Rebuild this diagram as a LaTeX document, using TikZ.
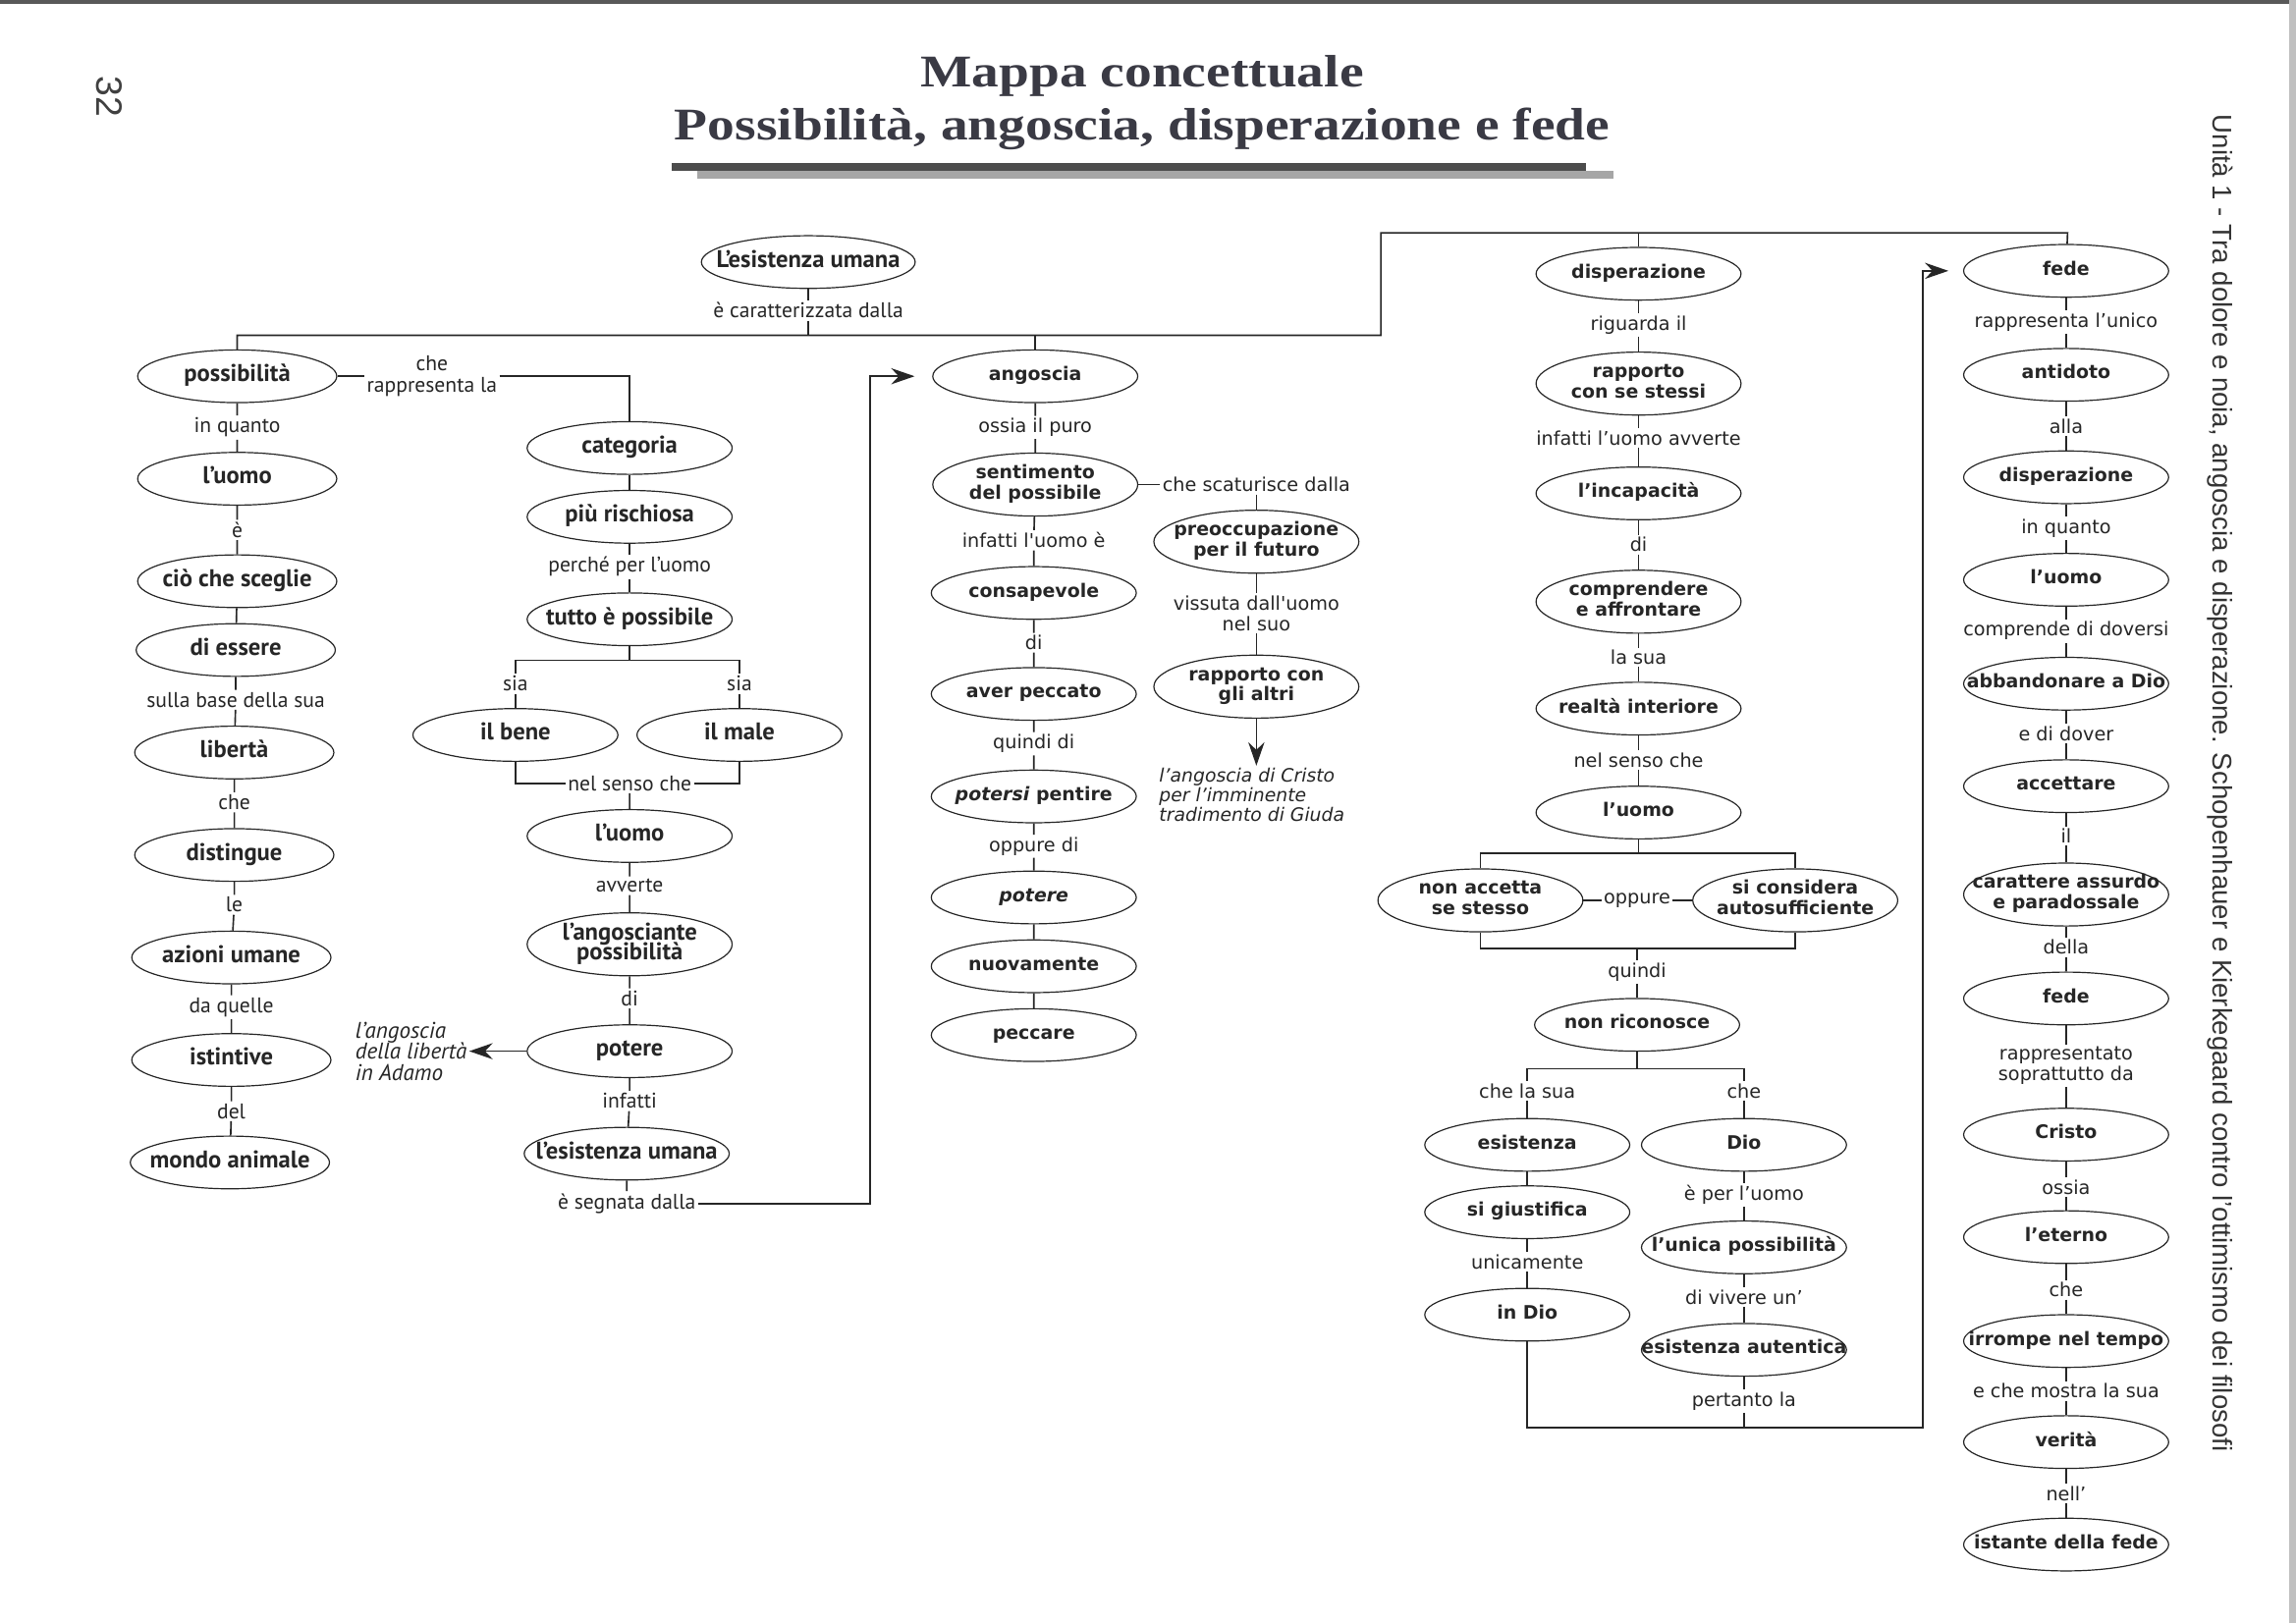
\documentclass[tikz,border=0pt]{standalone}
\usepackage{fontspec}
\usetikzlibrary{shapes.geometric,arrows.meta}
\newfontfamily\fA{PT Sans}
\newfontfamily\fB{DejaVu Sans}
\newfontfamily\fT[FakeStretch=1.2]{Liberation Serif}
\newfontfamily\fS{Liberation Sans}
\definecolor{ink}{HTML}{262626}
\definecolor{tink}{HTML}{3A3A44}
\newcommand{\zt}[1]{\makebox[0pt]{\begin{tabular}{@{}c@{}}#1\end{tabular}}}
\tikzset{
 conn/.style={draw=ink, line width=1.1pt},
 arr/.style={conn, -{Stealth[length=16pt,width=11pt]}},
 ovbase/.style={ellipse, draw=ink, line width=0.8pt, inner sep=0pt, minimum height=36, text=ink},
 ovA/.style={ovbase, minimum width=136, font=\fA\bfseries\fontsize{16.5}{15}\selectfont},
 ovB/.style={ovbase, minimum width=140, font=\fB\bfseries\fontsize{12.7}{14}\selectfont},
 two/.style={minimum height=43},
 labA/.style={inner sep=1.5pt, text=ink, align=center, font=\fA\fontsize{14.5}{15}\selectfont},
 labB/.style={inner sep=1.5pt, text=ink, align=center, font=\fB\fontsize{12.9}{14}\selectfont},
}
\begin{document}
\begin{tikzpicture}[x=1pt,y=-1pt]
\useasboundingbox (0,0) rectangle (1568,1108.6);
\fill[white] (0,0) rectangle (1568,1108.6);
\fill[black!65] (0,0) rectangle (1568,2.5);
\fill[black!25] (1563,0) rectangle (1568,1108.6);

% title
\node[font=\fT\bfseries\fontsize{31}{31}\selectfont, text=tink] (t1) at (780,52) {Mappa concettuale};
\node[font=\fT\bfseries\fontsize{31}{31}\selectfont, text=tink] (t2) at (780,88) {Possibilità, angoscia, disperazione e fede};
\fill[black!70] (459,111) rectangle (1083,117);
\fill[black!35] (476,117) rectangle (1102,122);
\node[font=\fS\fontsize{25}{25}\selectfont, text=black!75, rotate=-90] (pg) at (75,66) {32};
\node[font=\fS\fontsize{18.5}{20}\selectfont, text=black!80, rotate=-90] (side) at (1516,535) {Unità 1 - Tra dolore e noia, angoscia e disperazione. Schopenhauer e Kierkegaard contro l’ottimismo dei filosofi};

% top
\node[ovA, minimum width=146] (ex0) at (552,179) {\zt{L’esistenza umana}};
\node[labA] (lcar) at (552,212) {è caratterizzata dalla};
\coordinate (k0) at (552,229);
\coordinate (k1) at (943,229);
\coordinate (k3) at (1412,159);

% column 1
\node[ovA] (poss) at (162,257) {\zt{possibilità}};
\node[labA] (l1) at (162,292) {in quanto};
\node[ovA] (uomo1) at (162,327) {\zt{l’uomo}};
\node[labA] (l2) at (162,362) {è};
\node[ovA] (cio) at (162,397) {\zt{ciò che sceglie}};
\node[ovA] (diess) at (161,444) {\zt{di essere}};
\node[labA] (l3) at (161,478) {sulla base della sua};
\node[ovA] (lib) at (160,514) {\zt{libertà}};
\node[labA] (l4) at (160,548) {che};
\node[ovA] (dist) at (160,584) {\zt{distingue}};
\node[labA] (l5) at (160,618) {le};
\node[ovA] (az) at (158,654) {\zt{azioni umane}};
\node[labA] (l6) at (158,688) {da quelle};
\node[ovA] (ist) at (158,724) {\zt{istintive}};
\node[labA] (l7) at (158,759) {del};
\node[ovA] (mondo) at (157,794) {\zt{mondo animale}};
\draw[conn] (poss) -- (l1) -- (uomo1) -- (l2) -- (cio) -- (diess) -- (l3) -- (lib) -- (l4) -- (dist) -- (l5) -- (az) -- (l6) -- (ist) -- (l7) -- (mondo);

% column 2
\node[labA] (l8) at (295,257) {che\\rappresenta la};
\node[ovA, minimum width=140] (cat) at (430,306) {\zt{categoria}};
\node[ovA, minimum width=140] (piu) at (430,353) {\zt{più rischiosa}};
\node[labA] (l9) at (430,387) {perché per l’uomo};
\node[ovA, minimum width=140] (tutto) at (430,423) {\zt{tutto è possibile}};
\coordinate (j1) at (430,451);
\coordinate (b1) at (352,451);
\coordinate (b2) at (505,451);
\node[labA] (sia1) at (352,467) {sia};
\node[labA] (sia2) at (505,467) {sia};
\node[ovA, minimum width=140] (bene) at (352,502) {\zt{il bene}};
\node[ovA, minimum width=140] (male) at (505,502) {\zt{il male}};
\node[labA] (l10) at (430,535) {nel senso che};
\node[ovA, minimum width=140] (uomo2) at (430,571) {\zt{l’uomo}};
\node[labA] (l11) at (430,605) {avverte};
\node[ovA, minimum width=140, two] (angp) at (430,645) {\zt{l’angosciante\\[-3pt]possibilità}};
\node[labA] (l12) at (430,682) {di};
\node[ovA, minimum width=140] (pot1) at (430,718) {\zt{potere}};
\node[labA, font=\fA\itshape\fontsize{15.5}{14.5}\selectfont, align=left, anchor=west] (adamo) at (241,718) {l’angoscia\\della libertà\\in Adamo};
\node[labA] (l13) at (430,752) {infatti};
\node[ovA, minimum width=140] (ex2) at (428,788) {\zt{l’esistenza umana}};
\node[labA] (l14) at (428,822) {è segnata dalla};
\coordinate (k4) at (594,257);

\draw[conn] (poss) -- (l8);
\draw[conn] (l8.east) -| (cat);
\draw[conn] (cat) -- (piu) -- (l9) -- (tutto) -- (j1);
\draw[conn] (sia1) -- (b1) -- (b2) -- (sia2);
\draw[conn] (sia1) -- (bene);
\draw[conn] (sia2) -- (male);
\draw[conn] (bene) |- (l10);
\draw[conn] (male) |- (l10);
\draw[conn] (l10) -- (uomo2) -- (l11) -- (angp) -- (l12) -- (pot1) -- (l13) -- (ex2) -- (l14);
\draw[arr] (pot1) -- (adamo);

% column 3
\node[ovB] (ang) at (707,257) {\zt{angoscia}};
\node[labB] (m1) at (707,292) {ossia il puro};
\node[ovB, two] (sent) at (707,331) {\zt{sentimento\\del possibile}};
\node[labB] (m2) at (706,369) {infatti l'uomo è};
\node[ovB] (cons) at (706,405) {\zt{consapevole}};
\node[labB] (m3) at (706,439) {di};
\node[ovB] (aver) at (706,474) {\zt{aver peccato}};
\node[labB] (m4) at (706,508) {quindi di};
\node[ovB] (pent) at (706,544) {\zt{\textit{potersi} pentire}};
\node[labB] (m5) at (706,578) {oppure di};
\node[ovB] (pot2) at (706,613) {\zt{\itshape potere}};
\node[ovB] (nuov) at (706,660) {\zt{nuovamente}};
\node[ovB] (pecc) at (706,707) {\zt{peccare}};
\node[labB] (m6) at (858,331) {che scaturisce dalla};
\node[ovB, two] (preo) at (858,370) {\zt{preoccupazione\\per il futuro}};
\node[labB] (m7) at (858,419) {vissuta dall'uomo\\nel suo};
\node[ovB, two] (rapa) at (858,469) {\zt{rapporto con\\gli altri}};
\node[labB, font=\fB\itshape\fontsize{12.6}{13.5}\selectfont, align=left, anchor=north west] (giuda) at (790,523) {l’angoscia di Cristo\\per l’imminente\\tradimento di Giuda};

\draw[conn] (ang) -- (m1) -- (sent) -- (m2) -- (cons) -- (m3) -- (aver) -- (m4) -- (pent) -- (m5) -- (pot2) -- (nuov) -- (pecc);
\draw[conn] (sent) -- (m6);
\draw[conn] (m6) -- (preo) -- (m7) -- (rapa);
\draw[arr] (rapa) -- (rapa |- giuda.north);
\draw[arr] (l14) -| (k4) -- ([xshift=-12pt]ang.west);

% column 4
\node[ovB] (disp) at (1119,187) {\zt{disperazione}};
\node[labB] (n1) at (1119,222) {riguarda il};
\node[ovB, two] (rss) at (1119,262) {\zt{rapporto\\con se stessi}};
\node[labB] (n2) at (1119,299) {infatti l’uomo avverte};
\node[ovB] (inc) at (1119,337) {\zt{l’incapacità}};
\node[labB] (n3) at (1119,372) {di};
\node[ovB, two] (comp) at (1119,411) {\zt{comprendere\\e affrontare}};
\node[labB] (n4) at (1119,449) {la sua};
\node[ovB] (real) at (1119,484) {\zt{realtà interiore}};
\node[labB] (n5) at (1119,519) {nel senso che};
\node[ovB] (uomo4) at (1119,555) {\zt{l’uomo}};
\coordinate (c0) at (1119,583);
\coordinate (c1) at (1011,583);
\coordinate (c2) at (1226,583);
\node[ovB, two] (nacc) at (1011,615) {\zt{non accetta\\se stesso}};
\node[ovB, two] (scon) at (1226,615) {\zt{si considera\\autosufficiente}};
\node[labB] (n6) at (1118,615) {oppure};
\coordinate (d0) at (1118,648);
\coordinate (d1) at (1011,648);
\coordinate (d2) at (1226,648);
\node[labB] (n7) at (1118,664) {quindi};
\node[ovB] (nric) at (1118,700) {\zt{non riconosce}};
\coordinate (e0) at (1118,730);
\coordinate (e1) at (1043,730);
\coordinate (e2) at (1191,730);
\node[labB] (n8) at (1043,745) {che la sua};
\node[labB] (n9) at (1191,745) {che};
\node[ovB] (esi3) at (1043,782) {\zt{esistenza}};
\node[ovB] (sig) at (1043,828) {\zt{si giustifica}};
\node[labB] (n10) at (1043,862) {unicamente};
\node[ovB] (indio) at (1043,898) {\zt{in Dio}};
\node[ovB] (dio) at (1191,782) {\zt{Dio}};
\node[labB] (n11) at (1191,816) {è per l’uomo};
\node[ovB] (unica) at (1191,852) {\zt{l’unica possibilità}};
\node[labB] (n12) at (1191,886) {di vivere un’};
\node[ovB] (aut) at (1191,922) {\zt{esistenza autentica}};
\node[labB] (n13) at (1191,957) {pertanto la};
\coordinate (f1) at (1043,975);
\coordinate (f2) at (1313,975);

\draw[conn] (disp) -- (n1) -- (rss) -- (n2) -- (inc) -- (n3) -- (comp) -- (n4) -- (real) -- (n5) -- (uomo4) -- (c0);
\draw[conn] (nacc) -- (c1) -- (c2) -- (scon);
\draw[conn] (nacc) -- (n6) -- (scon);
\draw[conn] (nacc) -- (d1) -- (d2) -- (scon);
\draw[conn] (d0) -- (n7) -- (nric) -- (e0);
\draw[conn] (n8) -- (e1) -- (e2) -- (n9);
\draw[conn] (n8) -- (esi3) -- (sig) -- (n10) -- (indio);
\draw[conn] (n9) -- (dio) -- (n11) -- (unica) -- (n12) -- (aut) -- (n13) -- (n13 |- f2);

% column 5
\node[ovB] (fede1) at (1411,185) {\zt{fede}};
\node[labB] (p1) at (1411,220) {rappresenta l’unico};
\node[ovB] (anti) at (1411,256) {\zt{antidoto}};
\node[labB] (p2) at (1411,291) {alla};
\node[ovB] (disp2) at (1411,326) {\zt{disperazione}};
\node[labB] (p3) at (1411,361) {in quanto};
\node[ovB] (uomo5) at (1411,396) {\zt{l’uomo}};
\node[labB] (p4) at (1411,431) {comprende di doversi};
\node[ovB] (abb) at (1411,467) {\zt{abbandonare a Dio}};
\node[labB] (p5) at (1411,501) {e di dover};
\node[ovB] (acc) at (1411,537) {\zt{accettare}};
\node[labB] (p6) at (1411,571) {il};
\node[ovB, two] (car) at (1411,611) {\zt{carattere assurdo\\e paradossale}};
\node[labB] (p7) at (1411,647) {della};
\node[ovB] (fede2) at (1411,682) {\zt{fede}};
\node[labB] (p8) at (1411,728) {rappresentato\\soprattutto da};
\node[ovB] (cri) at (1411,775) {\zt{Cristo}};
\node[labB] (p9) at (1411,811) {ossia};
\node[ovB] (eter) at (1411,845) {\zt{l’eterno}};
\node[labB] (p10) at (1411,881) {che};
\node[ovB] (irr) at (1411,916) {\zt{irrompe nel tempo}};
\node[labB] (p11) at (1411,950) {e che mostra la sua};
\node[ovB] (ver) at (1411,985) {\zt{verità}};
\node[labB] (p12) at (1411,1020) {nell’};
\node[ovB] (ist2) at (1411,1055) {\zt{istante della fede}};
\draw[conn] (fede1) -- (p1) -- (anti) -- (p2) -- (disp2) -- (p3) -- (uomo5) -- (p4) -- (abb) -- (p5) -- (acc) -- (p6) -- (car) -- (p7) -- (fede2) -- (p8) -- (cri) -- (p9) -- (eter) -- (p10) -- (irr) -- (p11) -- (ver) -- (p12) -- (ist2);

% long connectors
\draw[conn] (ex0) -- (lcar) -- (k0);
\draw[conn] (poss) |- (k1) |- (k3) -- (fede1);
\draw[conn] (ang) -- (ang |- k1);
\draw[conn] (disp) -- (disp |- k3);
\draw[arr] (indio) -- (f1) -- (f2) |- ([xshift=-10pt]fede1.west);
\end{tikzpicture}
\end{document}
